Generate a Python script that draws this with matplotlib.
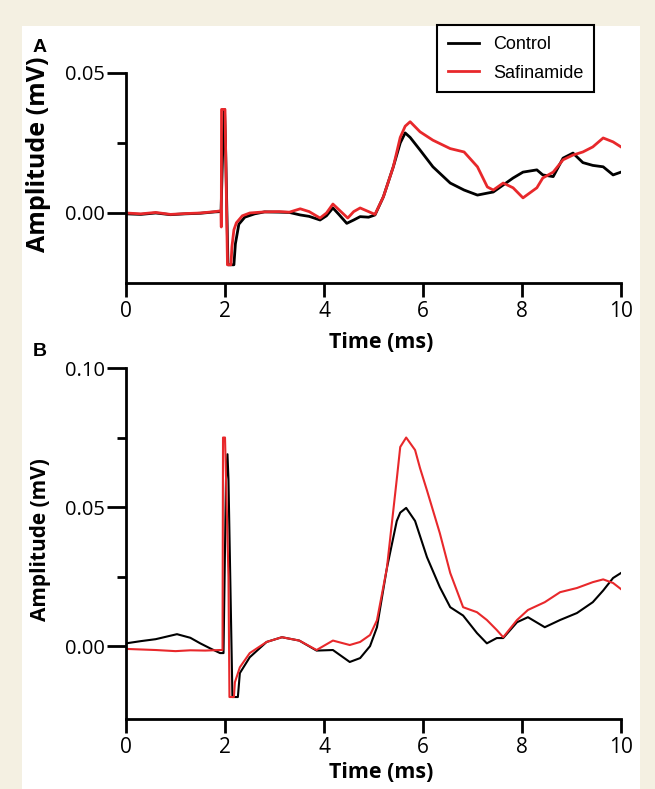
import matplotlib
matplotlib.use("Agg")
import matplotlib.pyplot as plt
from matplotlib.patches import Rectangle
from matplotlib.lines import Line2D

# panel A, control
tA_ctrl = [0.0, 0.3, 0.6, 0.9, 1.2, 1.5, 1.8, 1.92, 1.95, 1.99, 2.01, 2.06, 2.18, 2.21, 2.28,
           2.4, 2.6, 2.8, 3.1, 3.3, 3.52, 3.7, 3.92, 4.05, 4.18, 4.3, 4.46, 4.6, 4.73, 4.9,
           5.03, 5.2, 5.4, 5.54, 5.64, 5.74, 5.94, 6.2, 6.55, 6.83, 7.1, 7.3, 7.42, 7.62,
           7.82, 8.02, 8.3, 8.42, 8.63, 8.83, 9.03, 9.23, 9.43, 9.64, 9.84, 10.0]
yA_ctrl = [-0.0003, -0.0005, 0.0, -0.0006, -0.0003, -0.0001, 0.0004, 0.0005, 0.020, 0.037, 0.025,
           -0.0185, -0.0185, -0.011, -0.004, -0.0015, -0.0003, 0.0004, 0.0003, 0.0002, -0.0007,
           -0.0012, -0.0025, -0.001, 0.0018, -0.0005, -0.0037, -0.0025, -0.0013, -0.0015,
           -0.0007, 0.0058, 0.0165, 0.025, 0.0286, 0.027, 0.0225, 0.0165, 0.0107, 0.0082,
           0.0064, 0.0071, 0.0075, 0.010, 0.0125, 0.0146, 0.0154, 0.0136, 0.013, 0.0196,
           0.0214, 0.018, 0.017, 0.0165, 0.0136, 0.0146]

# panel A, safinamide
tA_saf = [0.0, 0.3, 0.6, 0.9, 1.2, 1.5, 1.8, 1.92, 1.925, 1.93, 2.00, 2.05, 2.12, 2.14, 2.18,
          2.23, 2.35, 2.5, 2.8, 3.1, 3.3, 3.52, 3.7, 3.92, 4.05, 4.18, 4.3, 4.48, 4.6, 4.73,
          4.9, 5.03, 5.2, 5.4, 5.54, 5.64, 5.74, 5.94, 6.2, 6.55, 6.83, 7.1, 7.3, 7.42, 7.62,
          7.82, 8.02, 8.3, 8.42, 8.63, 8.83, 9.03, 9.23, 9.43, 9.64, 9.84, 10.0]
yA_saf = [0.0, -0.0003, 0.0002, -0.0005, -0.0002, 0.0, 0.0005, 0.0008, -0.005, 0.037, 0.037,
          -0.0185, -0.0185, -0.012, -0.006, -0.0035, -0.001, 0.0, 0.0004, 0.0005, 0.0003,
          0.0015, 0.0005, -0.0018, 0.0, 0.0032, 0.0012, -0.0018, 0.0005, 0.0018, 0.0005,
          -0.0005, 0.0058, 0.0165, 0.027, 0.031, 0.0326, 0.029, 0.026, 0.023, 0.0218, 0.0165,
          0.0093, 0.0082, 0.0107, 0.009, 0.0054, 0.009, 0.0125, 0.0146, 0.019, 0.0207,
          0.0218, 0.0236, 0.0268, 0.0254, 0.0236]

# panel B, control
tB_ctrl = [0.0, 0.3, 0.6, 1.03, 1.3, 1.5, 1.7, 1.9, 1.97, 2.02, 2.05, 2.07, 2.15, 2.26, 2.3,
           2.5, 2.84, 3.15, 3.5, 3.85, 4.18, 4.52, 4.73, 4.93, 5.07, 5.27, 5.47, 5.54, 5.66,
           5.84, 6.08, 6.34, 6.55, 6.81, 7.09, 7.29, 7.49, 7.62, 7.9, 8.12, 8.46, 8.77, 9.11,
           9.43, 9.64, 9.84, 10.0]
yB_ctrl = [0.0010, 0.0018, 0.0025, 0.0043, 0.0030, 0.0010, -0.0008, -0.0025, -0.0025, 0.060,
           0.069, 0.060, -0.0183, -0.0183, -0.0097, -0.004, 0.0015, 0.0032, 0.002, -0.0016,
           -0.0014, -0.0057, -0.0043, 0.0, 0.0068, 0.028, 0.045, 0.048, 0.0497, 0.045, 0.032,
           0.0212, 0.014, 0.011, 0.0047, 0.001, 0.0029, 0.0029, 0.0086, 0.0104, 0.0068,
           0.0094, 0.0119, 0.0158, 0.020, 0.0245, 0.0263]

# panel B, safinamide
tB_saf = [0.0, 0.3, 0.6, 1.0, 1.3, 1.6, 1.9, 1.95, 1.96, 2.00, 2.07, 2.09, 2.18, 2.20, 2.3,
          2.5, 2.84, 3.15, 3.5, 3.85, 4.18, 4.52, 4.73, 4.93, 5.07, 5.27, 5.47, 5.54, 5.66,
          5.84, 5.94, 6.08, 6.34, 6.55, 6.81, 7.09, 7.29, 7.49, 7.62, 7.9, 8.12, 8.46, 8.77,
          9.11, 9.43, 9.64, 9.84, 10.0]
yB_saf = [-0.0010, -0.0012, -0.0014, -0.0018, -0.0015, -0.0016, -0.0014, -0.0014, 0.075, 0.075,
          0.025, -0.0183, -0.0183, -0.013, -0.0076, -0.0025, 0.0015, 0.0032, 0.002, -0.0014,
          0.002, 0.0004, 0.0015, 0.004, 0.0093, 0.028, 0.060, 0.0716, 0.075, 0.0705, 0.064,
          0.056, 0.0406, 0.0263, 0.014, 0.0122, 0.0094, 0.0058, 0.0032, 0.0094, 0.013,
          0.0158, 0.0194, 0.0209, 0.023, 0.024, 0.0227, 0.0205]

xticks = [0, 2, 4, 6, 8, 10]
yticksA = [0.0, 0.05]
yticksB = [0.0, 0.05, 0.10]

W, H = 655, 789
red = "#e8282b"
beige = "#f4f0e2"

fig = plt.figure(figsize=(W / 100, H / 100), dpi=100, facecolor=beige)
fig.patches.append(Rectangle((22 / W, 0), (640 - 22) / W, 1 - 26 / H,
                             transform=fig.transFigure, facecolor="white",
                             edgecolor="none", zorder=-5))


def px(x0, y0, x1, y1):
    return [x0 / W, 1 - y1 / H, (x1 - x0) / W, (y1 - y0) / H]


def style(ax, ylim, yticks, yminor):
    ax.set_xlim(0, 10)
    ax.set_ylim(*ylim)
    ax.spines["top"].set_visible(False)
    ax.spines["right"].set_visible(False)
    for s in ("left", "bottom"):
        ax.spines[s].set_linewidth(2.0)
    ax.set_xticks(xticks)
    ax.set_xticklabels([str(v) for v in xticks], fontfamily="Open Sans", fontsize=15)
    ax.set_yticks(yticks)
    ax.set_yticklabels(["%.2f" % v for v in yticks], fontfamily="Open Sans", fontsize=14.5)
    ax.set_yticks(yminor, minor=True)
    ax.tick_params(axis="y", which="major", length=14, width=2.0, pad=1)
    ax.tick_params(axis="y", which="minor", length=6.5, width=2.0)
    ax.tick_params(axis="x", which="major", length=10, width=2.0, pad=3)
    ax.patch.set_alpha(0)


axA = fig.add_axes(px(126, 73, 621, 283))
axA.plot(tA_ctrl, yA_ctrl, color="black", lw=2.0)
axA.plot(tA_saf, yA_saf, color=red, lw=2.0)
style(axA, (-0.025, 0.05), yticksA, [0.025])

axB = fig.add_axes(px(126, 368, 621, 719))
axB.plot(tB_ctrl, yB_ctrl, color="black", lw=1.5)
axB.plot(tB_saf, yB_saf, color=red, lw=1.5)
style(axB, (-0.0262, 0.10), yticksB, [0.025, 0.075])

fig.text(39 / W, 1 - 154 / H, "Amplitude (mV)", rotation=90, ha="center", va="center",
         fontfamily="Open Sans", fontweight="bold", fontsize=18)
fig.text(41 / W, 1 - 540 / H, "Amplitude (mV)", rotation=90, ha="center", va="center",
         fontfamily="Open Sans", fontweight="bold", fontsize=15)
fig.text(381 / W, 1 - 343 / H, "Time (ms)", ha="center", va="center",
         fontfamily="Open Sans", fontweight="bold", fontsize=15.5)
fig.text(381 / W, 1 - 772 / H, "Time (ms)", ha="center", va="center",
         fontfamily="Open Sans", fontweight="bold", fontsize=15.5)
fig.text(40 / W, 1 - 47 / H, "A", ha="center", va="center",
         fontfamily="Liberation Sans", fontweight="bold", fontsize=14)
fig.text(40 / W, 1 - 352 / H, "B", ha="center", va="center",
         fontfamily="Liberation Sans", fontweight="bold", fontsize=14)

handles = [Line2D([], [], color="black", lw=2), Line2D([], [], color=red, lw=2)]
leg = fig.legend(handles, ["Control", "Safinamide"], loc="upper left",
                 bbox_to_anchor=(437 / W, 1 - 25 / H), borderaxespad=0,
                 frameon=True, fancybox=False, edgecolor="black", framealpha=1,
                 prop={"family": "Liberation Sans", "size": 13},
                 handlelength=1.7, handletextpad=0.8, labelspacing=0.65, borderpad=0.6)
leg.get_frame().set_linewidth(1.5)

fig.savefig("out.png", dpi=100, facecolor=beige)
